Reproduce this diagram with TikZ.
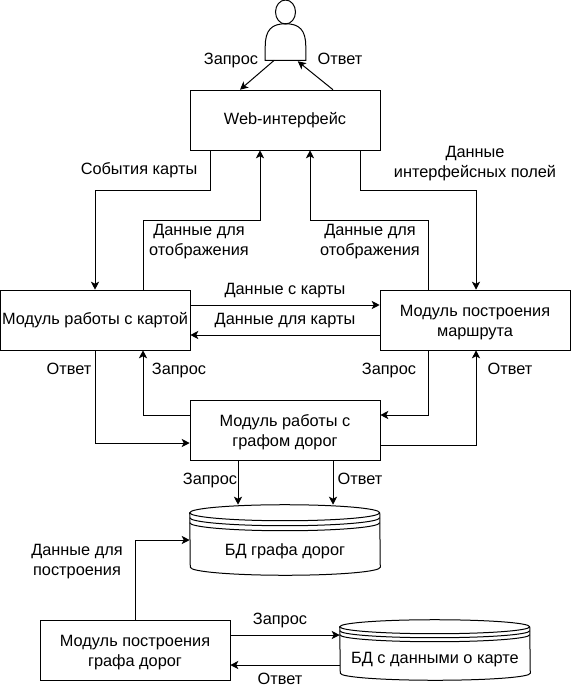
\documentclass[tikz,border=0pt]{standalone}
\usepackage{fontspec}
\setmainfont{Liberation Sans}
\usetikzlibrary{calc,arrows.meta,shapes.geometric}
\tikzset{
  lower/.style={execute at begin node=\rule[-2.6pt]{0pt}{12.5pt}},
  box/.style={draw,minimum width=190*0.75pt,minimum height=60*0.75pt,inner sep=0pt,align=center,lower},
  store/.style={minimum width=190*0.75pt,minimum height=#1*0.75pt,inner sep=0pt},
  lbl/.style={inner sep=0pt,align=center,lower},
  conn/.style={-{Stealth[length=6pt,width=6pt,inset=1.5pt]},line width=0.75pt},
}
% taller first line, pushes two-line text down
\newcommand{\firstline}{\rule{0pt}{12pt}}
% outline of a database: lid with two rims, sides, rounded bottom
\newcommand{\drawstore}[3]{
  \draw[line width=0.75pt] (#1.north west)++(0,#2) arc[start angle=180,end angle=0,x radius=95*0.75pt,y radius=#2*0.75pt]
    -- ($(#1.south east)+(0,-#2)$) arc[start angle=0,end angle=-180,x radius=95*0.75pt,y radius=#2*0.75pt] -- cycle;
  \draw[line width=0.75pt] ($(#1.north west)+(0,#2)$) arc[start angle=180,end angle=360,x radius=95*0.75pt,y radius=#2*0.75pt];
  \draw[line width=0.75pt] ($(#1.north west)+(0,#2+#3)$) arc[start angle=180,end angle=360,x radius=95*0.75pt,y radius=#2*0.75pt];
  \draw[line width=0.75pt] ($(#1.north west)+(0,#2+2*#3)$) arc[start angle=180,end angle=360,x radius=95*0.75pt,y radius=#2*0.75pt];
}
\begin{document}
\begin{tikzpicture}[x=0.75pt,y=-0.75pt,font=\fontsize{12.25}{15}\selectfont]
  \useasboundingbox (0,0) rectangle (572,695);
  % user
  \node[ellipse,draw,line width=0.75pt,minimum width=20*0.75pt,minimum height=24*0.75pt,inner sep=0pt] (head) at (285.5,12) {};
  \node[minimum width=40*0.75pt,minimum height=36*0.75pt,inner sep=0pt] (user) at (285.5,42) {};
  \draw[line width=0.75pt] (user.south west) -- ($(user.south west)+(0,-14)$)
    .. controls ($(user.south west)+(0,-30)$) and ($(user.north)+(-14,0)$) .. (user.north)
    .. controls ($(user.north)+(14,0)$) and ($(user.south east)+(0,-30)$) .. ($(user.south east)+(0,-14)$)
    -- (user.south east) -- cycle;
  % modules
  \node[box] (web) at (285,120) {Web-интерфейс};
  \node[box] (mapmod) at (95,320) {Модуль работы с картой};
  \node[box] (routemod) at (475,320) {\firstline Модуль построения\\маршрута};
  \node[box] (graphmod) at (285,430) {\firstline Модуль работы с\\графом дорог};
  \node[box] (buildmod) at (135,650) {\firstline Модуль построения\\графа дорог};
  % databases
  \node[store=70] (graphdb) at (285,540) {};
  \node[store=60] (mapdb) at (435,650) {};
  \drawstore{graphdb}{8}{5}
  \drawstore{mapdb}{7}{4}
  \node[lbl] (graphdbtext) at ($(graphdb.center)+(0,11)$) {БД графа дорог};
  \node[lbl] (mapdbtext) at ($(mapdb.center)+(0,9)$) {БД с данными о карте};
  % connectors
  \draw[conn] ($(user.south west)+(9,0)$) -- ($(web.north)+(-45,0)$);
  \draw[conn] ($(web.north)+(48,0)$) -- ($(user.south east)+(-8,1)$);
  \draw[conn] ($(web.south)+(-75,0)$) |- ($(web.south)+(-130,40)$) -| (mapmod.north);
  \draw[conn] ($(mapmod.north)+(48,0)$) |- ($(web.south)+(-25,70)$) -- ($(web.south)+(-25,0)$);
  \draw[conn] ($(routemod.north)+(-47,0)$) |- ($(web.south)+(25,70)$) -- ($(web.south)+(25,0)$);
  \draw[conn] ($(web.south)+(75,0)$) |- ($(web.south)+(130,40)$) -| ($(routemod.north)+(1,0)$);
  \draw[conn] ($(mapmod.east)+(0,-15)$) -- ($(routemod.west)+(0,-15)$);
  \draw[conn] ($(routemod.west)+(0,15)$) -- ($(mapmod.east)+(0,15)$);
  \draw[conn] (mapmod.south) |- ($(graphmod.west)+(0,13)$);
  \draw[conn] ($(graphmod.west)+(0,-15)$) -| ($(mapmod.south)+(48,0)$);
  \draw[conn] ($(routemod.south)+(-47,0)$) |- ($(graphmod.east)+(0,-15)$);
  \draw[conn] ($(graphmod.east)+(0,15)$) -| ($(routemod.south)+(1,0)$);
  \draw[conn] ($(graphmod.south)+(-47,0)$) -- ($(graphdb.north)+(-47,0)$);
  \draw[conn] ($(graphmod.south)+(48,0)$) -- ($(graphdb.north)+(48,0)$);
  \draw[conn] (buildmod.north) |- (graphdb.west);
  \draw[conn] ($(buildmod.east)+(0,-15)$) -- ($(mapdb.west)+(0,-15)$);
  \draw[conn] ($(mapdb.west)+(0,15)$) -- ($(buildmod.east)+(0,15)$);
  % labels
  \node[lbl] (l1) at (231,60) {Запрос};
  \node[lbl] (l2) at (340,60) {Ответ};
  \node[lbl] (l3) at (139,170) {События карты};
  \node[lbl] (l4) at (475,161) {\firstline Данные\\интерфейсных полей};
  \node[lbl] (l5) at (199,239) {\firstline Данные для\\отображения};
  \node[lbl] (l6) at (370,239) {\firstline Данные для\\отображения};
  \node[lbl] (l7) at (285,290) {Данные с карты};
  \node[lbl] (l8) at (285,320) {Данные для карты};
  \node[lbl] (l9) at (69,370) {Ответ};
  \node[lbl] (l10) at (179,370) {Запрос};
  \node[lbl] (l11) at (389,370) {Запрос};
  \node[lbl] (l12) at (510,370) {Ответ};
  \node[lbl] (l13) at (210,480) {Запрос};
  \node[lbl] (l14) at (360,480) {Ответ};
  \node[lbl] (l15) at (77,559) {\firstline Данные для\\построения};
  \node[lbl] (l16) at (280,620) {Запрос};
  \node[lbl] (l17) at (280,680) {Ответ};
\end{tikzpicture}
\end{document}
